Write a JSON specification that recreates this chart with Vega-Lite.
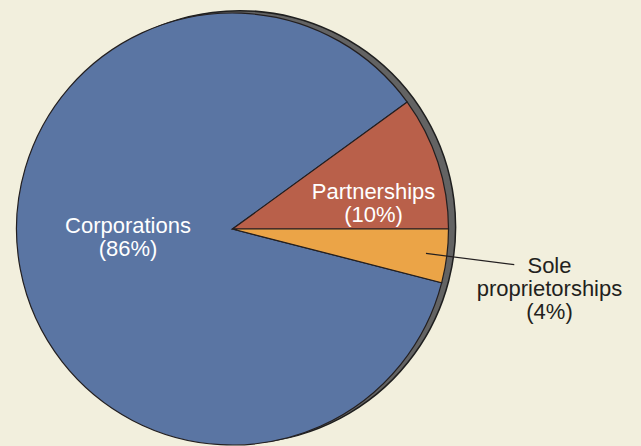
{
  "$schema": "https://vega.github.io/schema/vega-lite/v6.json",
  "autosize": "none",
  "width": 465,
  "height": 434,
  "padding": {"left": 0, "top": 12, "right": 176, "bottom": 0},
  "background": "#f2efdd",
  "config": {"view": {"stroke": null}},
  "data": {"values": [
    {"category": "Corporations", "pct": 86, "label": "Corporations\n(86%)"},
    {"category": "Partnerships", "pct": 10, "label": "Partnerships\n(10%)"},
    {"category": "Sole proprietorships", "pct": 4, "label": "Sole\nproprietorships\n(4%)"}
  ]},
  "layer": [
    {
      "transform": [{"aggregate": [{"op": "sum", "field": "pct", "as": "total"}]}],
      "mark": {"type": "arc", "radius": 216, "xOffset": 7, "yOffset": -2, "fill": "#636363", "stroke": "#1f1f1f", "strokeWidth": 1.5},
      "encoding": {
        "theta": {"field": "total", "type": "quantitative", "stack": true, "scale": {"domain": [0, 100], "range": [1.8221, 8.105285307179586]}}
      }
    },
    {
      "mark": {"type": "arc", "radius": 216, "stroke": "#231f20", "strokeWidth": 1.2},
      "encoding": {
        "theta": {"field": "pct", "type": "quantitative", "stack": true, "scale": {"domain": [0, 100], "range": [1.8221, 8.105285307179586]}},
        "color": {"field": "category", "type": "nominal", "legend": null, "scale": {"domain": ["Corporations", "Partnerships", "Sole proprietorships"], "range": ["#5a75a3", "#b9604a", "#eba447"]}},
        "order": {"field": "category", "type": "ordinal", "sort": "ascending"}
      }
    },
    {
      "mark": {"type": "arc", "radius": 284, "radius2": 195, "padAngle": 0.5, "fillOpacity": 0, "stroke": "#231f20", "strokeWidth": 1.2},
      "encoding": {
        "theta": {"field": "pct", "type": "quantitative", "stack": true, "scale": {"domain": [0, 100], "range": [1.8221, 8.105285307179586]}},
        "detail": {"field": "category", "type": "nominal"},
        "order": {"field": "category", "type": "ordinal", "sort": "ascending"},
        "strokeOpacity": {"condition": {"test": "datum.category === 'Sole proprietorships'", "value": 1}, "value": 0}
      }
    },
    {
      "mark": {"type": "text", "radius": 104.6, "thetaOffset": 0.150, "font": "Liberation Sans", "fontSize": 22, "lineBreak": "\n", "lineHeight": 23, "align": "center", "baseline": "alphabetic", "color": "#ffffff"},
      "encoding": {
        "theta": {"field": "pct", "type": "quantitative", "stack": true, "scale": {"domain": [0, 100], "range": [1.8221, 8.105285307179586]}},
        "detail": {"field": "category", "type": "nominal"},
        "order": {"field": "category", "type": "ordinal", "sort": "ascending"},
        "text": {"condition": {"test": "datum.category === 'Corporations'", "field": "label"}, "value": ""}
      }
    },
    {
      "mark": {"type": "text", "radius": 144.2, "thetaOffset": 0.105, "font": "Liberation Sans", "fontSize": 22, "lineBreak": "\n", "lineHeight": 23, "align": "center", "baseline": "alphabetic", "color": "#ffffff"},
      "encoding": {
        "theta": {"field": "pct", "type": "quantitative", "stack": true, "scale": {"domain": [0, 100], "range": [1.8221, 8.105285307179586]}},
        "detail": {"field": "category", "type": "nominal"},
        "order": {"field": "category", "type": "ordinal", "sort": "ascending"},
        "text": {"condition": {"test": "datum.category === 'Partnerships'", "field": "label"}, "value": ""}
      }
    },
    {
      "mark": {"type": "text", "radius": 320, "thetaOffset": 0.012, "font": "Liberation Sans", "fontSize": 22, "lineBreak": "\n", "lineHeight": 23, "align": "center", "baseline": "alphabetic", "color": "#231f20"},
      "encoding": {
        "theta": {"field": "pct", "type": "quantitative", "stack": true, "scale": {"domain": [0, 100], "range": [1.8221, 8.105285307179586]}},
        "detail": {"field": "category", "type": "nominal"},
        "order": {"field": "category", "type": "ordinal", "sort": "ascending"},
        "text": {"condition": {"test": "datum.category === 'Sole proprietorships'", "field": "label"}, "value": ""}
      }
    }
  ]
}
